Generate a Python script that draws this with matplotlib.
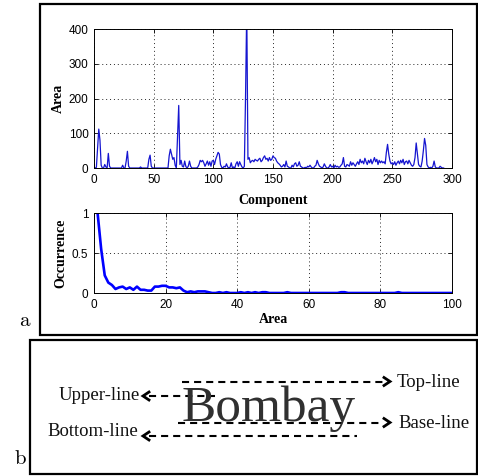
import matplotlib
matplotlib.use("Agg")
import matplotlib.pyplot as plt
from matplotlib.patches import Rectangle
import numpy as np

# ---------------- data ----------------
component_area = [
    0, 2, 55, 112, 80, 8, 0, 0, 10, 3,
    0, 42, 5, 0, 0, 0, 0, 0, 0, 0,
    0, 0, 0, 8, 0, 0, 20, 48, 5, 0,
    0, 0, 0, 0, 0, 0, 0, 0, 3, 0,
    0, 0, 0, 0, 0, 25, 37, 5, 0, 0,
    0, 0, 0, 0, 0, 0, 0, 0, 0, 0,
    0, 0, 35, 54, 40, 25, 30, 8, 0, 90,
    180, 10, 22, 5, 3, 20, 4, 0, 5, 20,
    5, 0, 0, 0, 0, 0, 3, 10, 22, 18,
    22, 15, 5, 12, 20, 8, 18, 5, 20, 22,
    10, 25, 35, 45, 40, 10, 2, 0, 5, 3,
    12, 3, 0, 2, 15, 0, 3, 0, 12, 18,
    5, 18, 10, 3, 0, 5, 208, 460, 25, 30,
    15, 20, 22, 18, 25, 22, 20, 25, 28, 18,
    22, 30, 35, 25, 28, 20, 30, 22, 25, 35,
    30, 28, 20, 15, 12, 8, 3, 5, 10, 3,
    20, 5, 3, 0, 0, 8, 3, 12, 15, 5,
    8, 18, 5, 3, 0, 0, 2, 0, 5, 3,
    8, 3, 0, 0, 5, 8, 22, 12, 5, 3,
    0, 3, 12, 5, 0, 0, 3, 10, 3, 5,
    0, 8, 3, 5, 2, 3, 8, 12, 30, 5,
    3, 10, 8, 5, 18, 8, 15, 10, 5, 12,
    18, 10, 25, 15, 20, 12, 28, 18, 10, 22,
    15, 25, 12, 20, 30, 18, 25, 10, 22, 15,
    20, 15, 18, 12, 45, 68, 40, 20, 12, 15,
    10, 18, 8, 15, 20, 12, 22, 15, 25, 10,
    18, 20, 12, 22, 15, 8, 5, 10, 30, 72,
    40, 10, 5, 3, 20, 50, 85, 65, 10, 3,
    0, 2, 0, 5, 20, 3, 0, 0, 0, 5,
    2, 0, 0,
]
component_index = list(range(1, len(component_area) + 1))

occurrence = [
    1.00, 0.55, 0.22, 0.13, 0.10, 0.05, 0.07, 0.08, 0.05, 0.07,
    0.04, 0.08, 0.04, 0.04, 0.03, 0.03, 0.08, 0.08, 0.09, 0.09,
    0.07, 0.07, 0.06, 0.07, 0.03, 0.01, 0.02, 0.01, 0.02, 0.02,
    0.02, 0.01, 0.00, 0.00, 0.01, 0.00, 0.01, 0.00, 0.00, 0.00,
    0.01, 0.00, 0.01, 0.00, 0.01, 0.00, 0.01, 0.01, 0.00, 0.00,
    0.00, 0.00, 0.00, 0.01, 0.00, 0.00, 0.00, 0.00, 0.00, 0.00,
    0.00, 0.00, 0.00, 0.00, 0.00, 0.00, 0.00, 0.00, 0.01, 0.01,
    0.00, 0.00, 0.00, 0.00, 0.00, 0.00, 0.00, 0.00, 0.00, 0.00,
    0.00, 0.00, 0.00, 0.00, 0.01, 0.00, 0.00, 0.00, 0.00, 0.00,
    0.00, 0.00, 0.00, 0.00, 0.00, 0.00, 0.00, 0.00, 0.00, 0.00,
]
area_values = list(range(1, len(occurrence) + 1))

top_xticks = [0, 50, 100, 150, 200, 250, 300]
top_yticks = [0, 100, 200, 300, 400]
bot_xticks = [0, 20, 40, 60, 80, 100]
bot_yticks = [0, 0.5, 1]
bot_yticklabels = ["0", "0.5", "1"]

# ---------------- figure ----------------
W, H = 478, 476
fig = plt.figure(figsize=(W / 100, H / 100), dpi=100)
fig.patch.set_facecolor("white")

label_font = dict(family="Liberation Serif", size=10, weight="bold")


def style_axes(ax):
    ax.tick_params(direction="in", length=3, width=0.6, top=True, right=True,
                   pad=4, labelsize=8.5)
    for lab in ax.get_xticklabels() + ax.get_yticklabels():
        lab.set_family("Liberation Sans")
    ax.grid(True, color="0.15", linestyle=(0, (1, 3)), linewidth=0.7)
    for s in ax.spines.values():
        s.set_linewidth(0.7)
        s.set_color("black")


def px_rect(left, top, right, bottom):
    return [left / W, 1 - bottom / H, (right - left) / W, (bottom - top) / H]


# overlay axes for frames and panel b diagram
ov = fig.add_axes([0, 0, 1, 1])
ov.set_xlim(0, W)
ov.set_ylim(H, 0)
ov.axis("off")

ax1 = fig.add_axes(px_rect(94, 29, 452, 168))
ax1.plot(component_index, component_area, color="#1515d0", linewidth=0.9)
ax1.set_xlim(0, 300)
ax1.set_ylim(0, 400)
ax1.set_xticks(top_xticks)
ax1.set_yticks(top_yticks)
style_axes(ax1)
ax1.set_xlabel("Component", labelpad=6, **label_font)
ax1.set_ylabel("Area", labelpad=3, **label_font)

ax2 = fig.add_axes(px_rect(94, 213, 452, 293))
ax2.plot(area_values, occurrence, color="#0000ff", linewidth=1.9)
ax2.set_xlim(0, 100)
ax2.set_ylim(0, 1)
ax2.set_xticks(bot_xticks)
ax2.set_yticks(bot_yticks)
ax2.set_yticklabels(bot_yticklabels)
style_axes(ax2)
ax2.set_xlabel("Area", labelpad=2, **label_font)
ax2.set_ylabel("Occurrence", labelpad=3, **label_font)

# frames
ov.add_patch(Rectangle((40, 4), 437, 331, fill=False, lw=1.6, ec="black"))
ov.add_patch(Rectangle((30, 340), 447, 134, fill=False, lw=1.6, ec="black"))

# panel labels
plt.rcParams["mathtext.fontset"] = "cm"
ov.text(25, 320, r"$\mathrm{a}$", fontsize=15, ha="center", va="center")
ov.text(20, 458, r"$\mathrm{b}$", fontsize=15, ha="center", va="center")

# panel b diagram
serif = dict(family="Liberation Serif", size=13.5, color="#111111")
ov.text(182, 421, "Bombay", family="Liberation Serif", fontsize=37,
        color="#303030", ha="left", va="baseline")

dash = (0, (3.4, 2.4))
lw = 1.5
y_top, y_upper, y_base, y_bottom = 381.5, 396, 422.5, 436

ov.plot([182, 383], [y_top, y_top], color="black", lw=lw, linestyle=dash)
ov.plot([149, 215], [y_upper, y_upper], color="black", lw=lw, linestyle=dash)
ov.plot([178, 383], [y_base, y_base], color="black", lw=lw, linestyle=dash)
ov.plot([149, 357], [y_bottom, y_bottom], color="black", lw=lw, linestyle=dash)

def chevron(x_tip, y, direction):
    d = 6 * direction
    ov.plot([x_tip - d, x_tip, x_tip - d], [y - 4, y, y + 4], color="black",
            lw=2.0, solid_joinstyle="miter")

chevron(390, y_top, 1)
chevron(390, y_base, 1)
chevron(143, y_upper, -1)
chevron(143, y_bottom, -1)

ov.text(397, y_top + 1, "Top-line", ha="left", va="center", **serif)
ov.text(398, y_base + 1, "Base-line", ha="left", va="center", **serif)
ov.text(140, y_upper, "Upper-line", ha="right", va="center", **serif)
ov.text(138, y_bottom - 4, "Bottom-line", ha="right", va="center", **serif)

fig.savefig("out.png", dpi=100, facecolor="white")
